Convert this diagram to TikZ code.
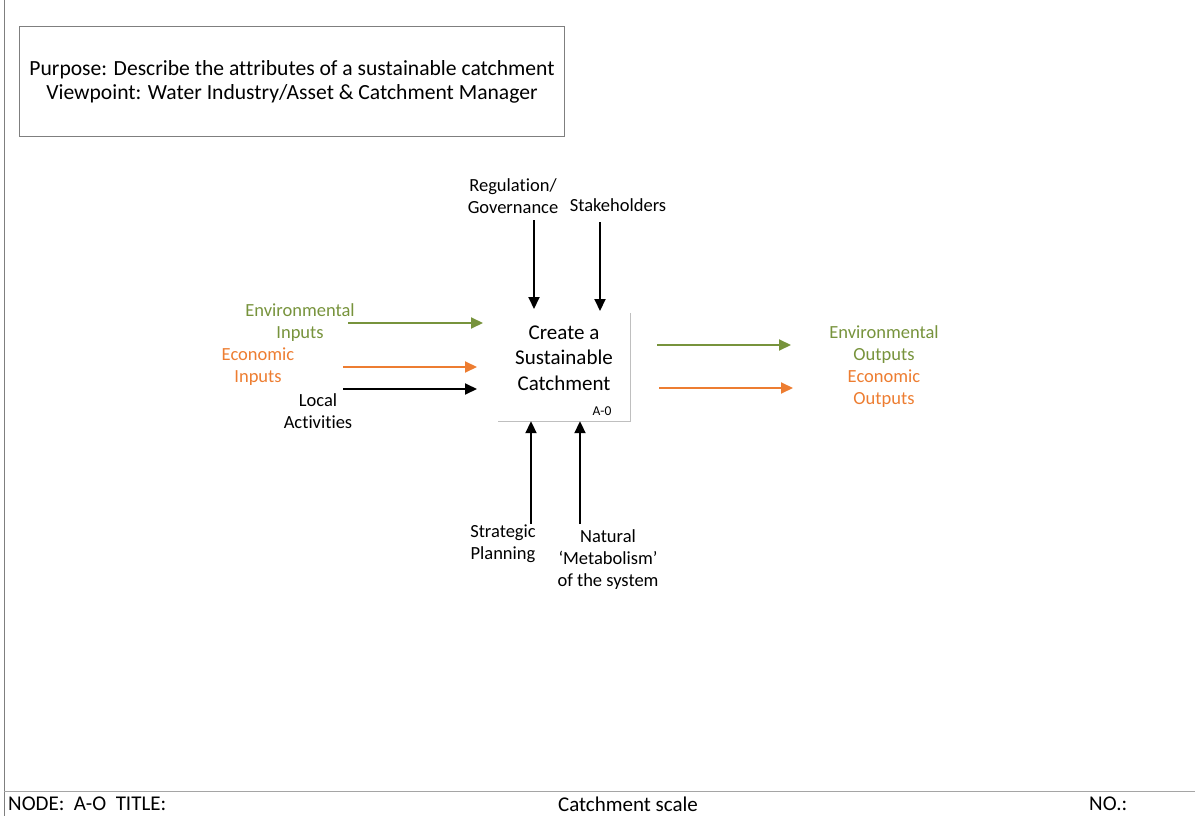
\documentclass[tikz,border=0pt]{standalone}
\usepackage{fontspec}
\setmainfont{Carlito}[Ligatures=NoCommon]
\usetikzlibrary{arrows.meta}
\definecolor{envgreen}{HTML}{77933C}
\definecolor{ecoorange}{HTML}{ED7D31}
\definecolor{frame}{HTML}{7F7F7F}
\begin{document}
\begin{tikzpicture}[x=1pt,y=-1pt,
  flow/.style={line width=2pt,-{Triangle[length=12pt,width=11pt]}},
  lbl/.style={font=\fontsize{18.5}{22}\selectfont,align=center,inner sep=0pt},
  boxtxt/.style={font=\fontsize{21}{25.5}\selectfont,align=center,inner sep=0pt},
  foot/.style={font=\fontsize{21}{22}\selectfont,inner sep=0pt}]
\useasboundingbox (0,0) rectangle (1195,816);

% sheet frame
\draw[line width=1pt,frame] (4,0) -- (4,816);
\draw[line width=1pt,frame!70] (4,791) -- (1195,791);

% purpose / viewpoint box
\node[draw=frame,line width=1pt,minimum width=545pt,minimum height=109pt,inner sep=0pt] (purpose) at (291.5,81.5) {};
\node[font=\fontsize{21.6}{24}\selectfont,align=center,inner sep=0pt] (purposetxt) at (292,82)
  {Purpose: Describe the attributes of a sustainable catchment\\Viewpoint: Water Industry/Asset \& Catchment Manager};

% activity box
\node[minimum width=132pt,minimum height=108pt,inner sep=0pt] (main) at (564,367) {};
\draw[line width=1pt,black!25] (main.north east) -- (main.south east) -- (main.south west);
\node[boxtxt] (maintxt) at (564,358) {Create a\\Sustainable\\Catchment};
\node[font=\fontsize{13.5}{15}\selectfont,inner sep=0pt] (code) at (602,411) {A-0};

% controls (top)
\node[lbl] (reg) at (513,196) {Regulation/\\Governance};
\node[lbl] (stake) at (618,205) {Stakeholders};
\coordinate (reg-s) at (534,220);
\coordinate (reg-e) at (534,309);
\coordinate (stake-s) at (600,222);
\coordinate (stake-e) at (600,311);
\draw[flow] (reg-s) -- (reg-e);
\draw[flow] (stake-s) -- (stake-e);

% inputs (left)
\node[lbl,text=envgreen] (envin) at (300,323) {Environmental\\Inputs};
\node[lbl,text=ecoorange] (ecoin) at (258,367) {Economic\\Inputs};
\node[lbl] (local) at (318,411) {Local\\Activities};
\coordinate (envin-s) at (348,323);
\coordinate (envin-e) at (483,323);
\coordinate (ecoin-s) at (343,367);
\coordinate (ecoin-e) at (477,367);
\coordinate (local-s) at (343,389);
\coordinate (local-e) at (477,389);
\draw[flow,envgreen] (envin-s) -- (envin-e);
\draw[flow,ecoorange] (ecoin-s) -- (ecoin-e);
\draw[flow] (local-s) -- (local-e);

% outputs (right)
\node[lbl,text=envgreen] (envout) at (884,345) {Environmental\\Outputs};
\node[lbl,text=ecoorange] (ecoout) at (884,389) {Economic\\Outputs};
\coordinate (envout-s) at (657,345);
\coordinate (envout-e) at (791,345);
\coordinate (ecoout-s) at (659,388);
\coordinate (ecoout-e) at (793,388);
\draw[flow,envgreen] (envout-s) -- (envout-e);
\draw[flow,ecoorange] (ecoout-s) -- (ecoout-e);

% mechanisms (bottom)
\node[lbl] (strat) at (503,543.5) {Strategic\\Planning};
\node[lbl] (nat) at (608,560) {Natural\\‘Metabolism’\\of the system};
\coordinate (strat-s) at (531,524);
\coordinate (nat-s) at (580,524);
\draw[flow] (strat-s) -- (strat-s |- main.south);
\draw[flow] (nat-s) -- (nat-s |- main.south);

% title block
\node[foot,anchor=west] (nodeid) at (8,804) {NODE:\ \ A-O\ \ TITLE:};
\node[foot] (title) at (628,804) {Catchment scale};
\node[foot,anchor=west] (no) at (1089,804) {NO.:};
\end{tikzpicture}
\end{document}
